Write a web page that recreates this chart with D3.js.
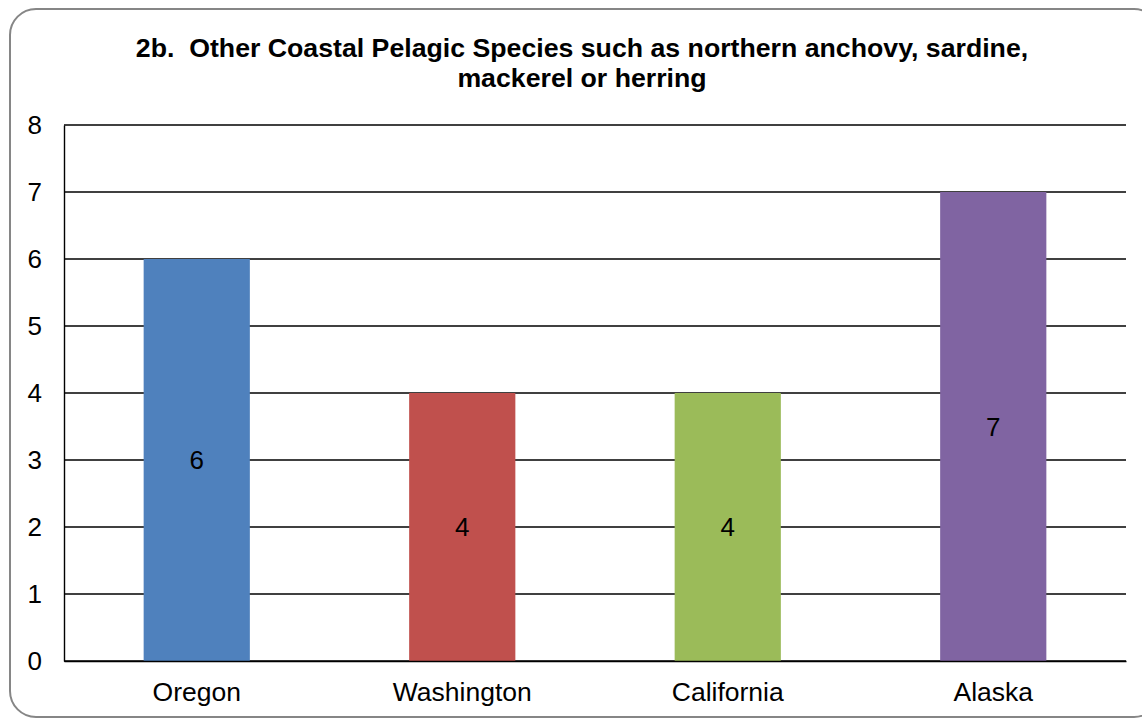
<!DOCTYPE html>
<html>
<head>
<meta charset="utf-8">
<script src="https://cdnjs.cloudflare.com/ajax/libs/d3/7.8.5/d3.min.js"></script>
<style>
  body { margin: 0; background: #fff; }
  svg { display: block; font-family: Arial, "Liberation Sans", sans-serif; }
</style>
</head>
<body>
<script>
// chart data
var states = ["Oregon", "Washington", "California", "Alaska"];
var counts = [6, 4, 4, 7];
var barColors = ["#4F81BD", "#C0504D", "#9BBB59", "#8064A2"];
var yTicks = [0, 1, 2, 3, 4, 5, 6, 7, 8];
var titleLines = ["2b.  Other Coastal Pelagic Species such as northern anchovy, sardine,",
                  "mackerel or herring"];

var width = 1142, height = 719;
var plot = {left: 64, right: 1126, top: 125, bottom: 661};

var svg = d3.select("body").append("svg")
    .attr("width", width)
    .attr("height", height);

// outer chart border (runs off the right edge in the original)
svg.append("rect")
    .attr("x", 10).attr("y", 9)
    .attr("width", 1150).attr("height", 708)
    .attr("rx", 26).attr("ry", 26)
    .attr("fill", "#fff")
    .attr("stroke", "#868686")
    .attr("stroke-width", 2);

svg.selectAll(".title")
    .data(titleLines)
    .enter().append("text")
    .attr("class", "title")
    .attr("x", 582)
    .attr("y", function(d, i) { return 57 + i * 30; })
    .attr("text-anchor", "middle")
    .style("font-size", "26.7px")
    .style("font-weight", "bold")
    .style("white-space", "pre")
    .text(function(d) { return d; });

var x = d3.scaleBand()
    .domain(states)
    .range([plot.left, plot.right])
    .paddingInner(0.6)
    .paddingOuter(0.3);

var y = d3.scaleLinear()
    .domain([0, 8])
    .range([plot.bottom, plot.top]);

// gridlines
svg.selectAll(".grid")
    .data(yTicks)
    .enter().append("line")
    .attr("class", "grid")
    .attr("x1", plot.left).attr("x2", plot.right)
    .attr("y1", function(d) { return y(d); })
    .attr("y2", function(d) { return y(d); })
    .attr("stroke", "#000")
    .attr("stroke-width", 1.4);

// bars
svg.selectAll(".bar")
    .data(counts)
    .enter().append("rect")
    .attr("class", "bar")
    .attr("x", function(d, i) { return x(states[i]); })
    .attr("y", function(d) { return y(d); })
    .attr("width", x.bandwidth())
    .attr("height", function(d) { return y(0) - y(d); })
    .attr("fill", function(d, i) { return barColors[i]; });

// value labels in the middle of each bar
svg.selectAll(".val")
    .data(counts)
    .enter().append("text")
    .attr("class", "val")
    .attr("x", function(d, i) { return x(states[i]) + x.bandwidth() / 2; })
    .attr("y", function(d) { return y(d / 2); })
    .attr("dy", "0.35em")
    .attr("text-anchor", "middle")
    .style("font-size", "26px")
    .text(function(d) { return d; });

// y axis
var yAxis = svg.append("g")
    .attr("transform", "translate(" + plot.left + ",0)")
    .call(d3.axisLeft(y).tickValues(yTicks).tickSize(0).tickPadding(22));
yAxis.select(".domain").attr("stroke", "#000").attr("stroke-width", 1.4);
yAxis.selectAll("text")
    .style("font-size", "26px")
    .style("font-family", "Arial, 'Liberation Sans', sans-serif")
    .attr("fill", "#000");

// x axis
var xAxis = svg.append("g")
    .attr("transform", "translate(0," + plot.bottom + ")")
    .call(d3.axisBottom(x).tickSize(0).tickPadding(21));
xAxis.select(".domain").attr("stroke", "#000").attr("stroke-width", 1.4);
xAxis.selectAll("text")
    .style("font-size", "26.5px")
    .style("font-family", "Arial, 'Liberation Sans', sans-serif")
    .attr("fill", "#000");
</script>
</body>
</html>
